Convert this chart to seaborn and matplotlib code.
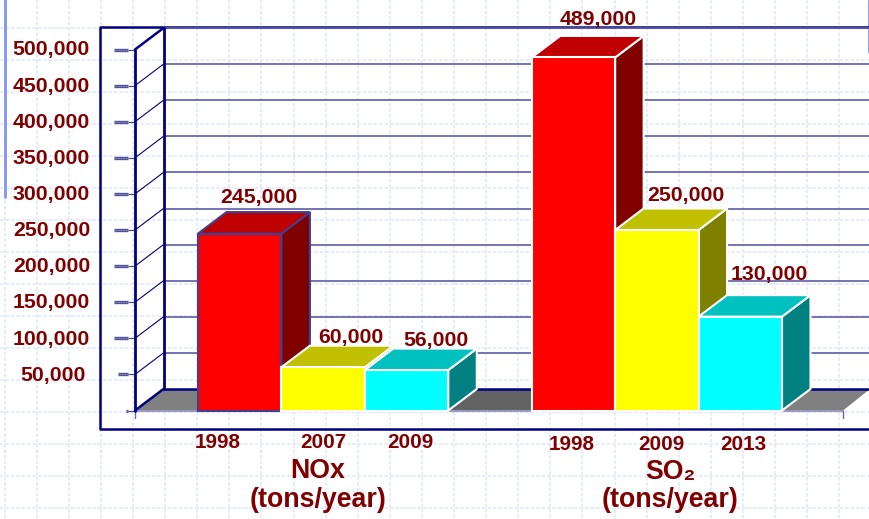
import matplotlib
matplotlib.use('Agg')
import matplotlib.pyplot as plt
from matplotlib.patches import Polygon
from matplotlib.transforms import Affine2D, ScaledTranslation
import numpy as np
import pandas as pd
import seaborn as sns

# values
bars = ['NOx 1998', 'NOx 2007', 'NOx 2009', 'SO2 1998', 'SO2 2009', 'SO2 2013']
tons = [245000, 60000, 56000, 489000, 250000, 130000]
value_labels = ['245,000', '60,000', '56,000', '489,000', '250,000', '130,000']
year_labels = ['1998', '2007', '2009', '1998', '2009', '2013']
ytick_values = [0, 50000, 100000, 150000, 200000, 250000, 300000, 350000, 400000, 450000, 500000]
ytick_labels = ['', '50,000', '100,000', '150,000', '200,000', '250,000', '300,000',
                '350,000', '400,000', '450,000', '500,000']

# placement and colours
order = bars[:3] + [' '] + bars[3:]
front = ['#ff0000', '#ffff00', '#00ffff', '#ff0000', '#ffff00', '#00ffff']
top = ['#c00000', '#c0c000', '#00c0c0', '#c00000', '#c0c000', '#00c0c0']
side = ['#800000', '#808000', '#008080', '#800000', '#808000', '#008080']
edges = ['#40408f', 'white', 'white', 'white', 'white', 'white']
label_offset = [(19, 36), (28, 30), (29, 30), (25, 38), (29, 34), (29, 42)]
year_xpos = [218, 323, 410, 572, 661, 743]
year_ypos = [443, 443, 442, 444, 445, 444]
navy = '#000080'
maroon = '#800000'

sns.set_theme(style='white')
plt.rcParams['font.family'] = ['Liberation Sans', 'DejaVu Sans']
plt.rcParams['font.weight'] = 'bold'

W, H = 870, 519
fig = plt.figure(figsize=(W / 100, H / 100), dpi=100, facecolor='white')
ax = fig.add_axes([135 / W, 1 - 410.5 / H, 708 / W, 361 / H])
ax.patch.set_visible(False)
px = Affine2D().scale(1, -1).translate(0, H)

df = pd.DataFrame({'bar': bars, 'tons': tons})
sns.barplot(data=df, x='bar', y='tons', hue='bar', order=order, hue_order=bars,
            palette=dict(zip(bars, front)), width=1, dodge=False, saturation=1,
            legend=False, ax=ax)

xmin, xmax = -1.255, 7.231
ax.set_xlim(xmin, xmax)
ax.set_ylim(0, 500000)
ax.set_xlabel('')
ax.set_ylabel('')
ax.set_xticks([])
sns.despine(ax=ax, left=True, bottom=True)

# depth of the fake 3d box, in data units
dx = 28.5 / 83.43
dy = 21.5 * 500000 / 361
xright = xmax + 27 / 83.43

# front faces come from seaborn, grab them before adding more patches
patches = sorted([p for c in ax.containers for p in c if p.get_height() > 0], key=lambda p: p.get_x())

# paper grid behind everything
for x in 36.7 + 32.1 * np.arange(-1, 27):
    ax.plot([x, x], [0, H], transform=px, color='#e3eafc', lw=1.3, ls=(0, (2, 1)), zorder=0, clip_on=False)
for y in 28 + 32 * np.arange(-1, 16):
    ax.plot([0, W], [y, y], transform=px, color='#e3eafc', lw=1.3, ls=(0, (2, 1)), zorder=0, clip_on=False)
ax.plot([5, 5], [0, 197], transform=px, color='#8494f0', lw=2, zorder=0.5, clip_on=False)
ax.plot([869, 869], [0, 52], transform=px, color='#8494f0', lw=2, zorder=0.5, clip_on=False)

# outer frame
ax.plot([W, 100, 100, W], [27, 27, 429, 429], transform=px, color=navy, lw=1.8, zorder=1, clip_on=False)

# floor
ax.add_patch(Polygon([(xmin, 0), (xmin + dx, dy), (xright, dy), (xmax, 0)], closed=True,
                     facecolor='#808080', edgecolor='none', zorder=1, clip_on=False))
ax.add_patch(Polygon([(2.5, 0), (2.5 + dx, dy), (3.5 + dx, dy), (3.5, 0)], closed=True,
                     facecolor='#626262', edgecolor='none', zorder=1.1, clip_on=False))
ax.plot([xmin, xmax], [0, 0], color='#9a9ac0', lw=1.5, zorder=1.2, clip_on=False)
ax.plot([xmax, xmax], [0, -11000], color='#6a6aa8', lw=1, zorder=1.2, clip_on=False)
ax.plot([xmin, xmin], [0, -11000], color='#6a6aa8', lw=1, zorder=1.2, clip_on=False)

# walls and grid lines
for v in ytick_values[1:-1]:
    ax.plot([xmin, xmin + dx], [v, v + dy], color=navy, lw=0.8, zorder=1.5, clip_on=False)
for v in ytick_values[1:]:
    ax.plot([xmin + dx, xright], [v + dy, v + dy], color='#5c5ca8', lw=1.2, zorder=1.5, clip_on=False)
for v in [0, 500000]:
    ax.plot([xmin, xmin + dx], [v, v + dy], color=navy, lw=1.8, zorder=1.6, clip_on=False)
ax.plot([xmin + dx, xright], [dy, dy], color=navy, lw=1.8, zorder=1.3, clip_on=False)
ax.plot([xmin, xmin], [0, 500000], color=navy, lw=2, zorder=1.6, clip_on=False)
ax.plot([xmin + dx, xmin + dx], [dy, 500000 + dy], color=navy, lw=2, zorder=1.6, clip_on=False)

# y axis
ax.set_yticks(ytick_values, ytick_labels)
ax.tick_params(axis='y', left=True, length=5, width=0.8, color='#40408f', pad=27.4,
               labelsize=15.3, labelcolor=maroon)
for lab, v in zip(ax.get_yticklabels(), ytick_values):
    lab.set_fontweight('bold')
    shift_x = -4 if v == 50000 else 0
    shift_y = 1.5 if v > 100000 else 0.5
    lab.set_transform(lab.get_transform() + ScaledTranslation(shift_x / 100, shift_y / 100, fig.dpi_scale_trans))
dash = 83.43
for v in ytick_values:
    start = xmin - (9 if v == 0 else 17 if v == 50000 else 21) / dash
    ax.plot([start, xmin - 7 / dash], [v, v], color='#50509c', lw=2.4, zorder=2,
            solid_capstyle='butt', clip_on=False)
    ax.plot([start, xmin - 7 / dash], [v, v], color='#b4b4d8', lw=0.6, ls=(0, (1, 1)), zorder=2.1, clip_on=False)

# box sides are hung on the bars
for i, p in enumerate(patches):
    x0, w, h = p.get_x(), p.get_width(), p.get_height()
    x1 = x0 + w
    z = 3 + i
    p.set_edgecolor(edges[i])
    p.set_linewidth(1.5)
    p.set_zorder(z + 0.3)
    p.set_clip_on(False)
    ax.add_patch(Polygon([(x1, 0), (x1 + dx, dy), (x1 + dx, h + dy), (x1, h)], closed=True,
                         facecolor=side[i], edgecolor=edges[i], lw=1.5, zorder=z + 0.1, clip_on=False))
    ax.add_patch(Polygon([(x0, h), (x0 + dx, h + dy), (x1 + dx, h + dy), (x1, h)], closed=True,
                         facecolor=top[i], edgecolor=edges[i], lw=1.5, zorder=z + 0.2, clip_on=False))
    ax.annotate(value_labels[i], xy=(x0 + w / 2, h), xytext=label_offset[i], textcoords='offset pixels',
                ha='center', va='center', fontsize=15.3, fontweight='bold', color=maroon,
                annotation_clip=False, zorder=12)

for lab, x, y in zip(year_labels, year_xpos, year_ypos):
    ax.text(x, y, lab, transform=px, ha='center', va='center', fontsize=14.9, fontweight='bold',
            color=maroon, clip_on=False)

for x, y, s in [(318, 471, 'NOx'), (318, 500, '(tons/year)'),
                (670, 472, 'SO\u2082'), (670, 500, '(tons/year)')]:
    ax.text(x, y, s, transform=px, ha='center', va='center', fontsize=19.3, fontweight='bold',
            color=maroon, clip_on=False)

plt.savefig('out.png', dpi=100)
